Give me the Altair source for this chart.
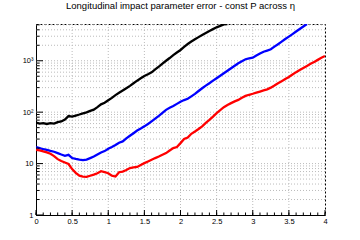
import altair as alt
import pandas as pd

# eta positions: 0.00, 0.05, 0.10, ...
ETA_STEP = 0.05

black = [63, 60, 61, 59, 61, 60, 64, 66, 72, 84,
         82, 86, 90, 95, 99, 106, 112, 125, 142, 152,
         170, 190, 215, 238, 263, 292, 325, 365, 410, 455,
         505, 545, 595, 680, 770, 880, 1000, 1130, 1290, 1450,
         1620, 1870, 2120, 2360, 2610, 2880, 3170, 3470, 3800, 4120,
         4470, 4780, 5100, 5150]

blue = [21, 20, 19, 18.5, 17.7, 17, 16, 15, 14.2, 14.8,
        12.8, 12.3, 11.9, 11.7, 12, 12.8, 13.7, 15, 16.4, 17.5,
        19.5, 21, 23, 25.5, 27, 31, 34.7, 39, 44, 48,
        53, 59, 66, 75, 85, 97, 111, 122, 132, 145,
        160, 172, 182, 203, 227, 258, 292, 328, 366, 410,
        457, 510, 571, 640, 715, 800, 893, 980, 1070, 1110,
        1150, 1260, 1380, 1500, 1580, 1670, 1880, 2100, 2350, 2650,
        2950, 3300, 3700, 4150, 4650, 5200]

red = [18.5, 18, 17.2, 16.5, 15.5, 14, 12.2, 11.2, 10.5, 9.8,
       7.8, 6.6, 5.8, 5.6, 5.5, 5.8, 6.1, 6.5, 7.1, 6.8,
       6.5, 5.8, 5.6, 6.8, 7.0, 7.5, 8.2, 8.4, 8.6, 9.4,
       10.2, 11, 11.9, 12.8, 13.7, 14.8, 16, 18, 20, 21,
       25, 30, 32, 38, 42, 47, 53, 62, 71, 82,
       96, 110, 125, 138, 150, 162, 173, 190, 207, 218,
       228, 240, 252, 265, 278, 300, 330, 365, 400, 440,
       485, 540, 600, 660, 725, 795, 870, 950, 1040, 1140,
       1240]

series_names = ["black", "blue", "red"]
series_colors = ["#000000", "#0000ff", "#ff0000"]

x_major = [0, 0.5, 1, 1.5, 2, 2.5, 3, 3.5, 4]
x_minor = [round(i * 0.1, 1) for i in range(41)]
y_major = [1, 10, 100, 1000]
y_minor = [m * 10 ** k for k in range(4) for m in range(2, 10) if m * 10 ** k < 5186]
y_grid = y_minor + [10, 100, 1000]
x_grid = [0.5, 1, 1.5, 2, 2.5, 3, 3.5]

rows = []
for name, vals in zip(series_names, [black, blue, red]):
    for i, v in enumerate(vals):
        rows.append({"eta": round(i * ETA_STEP, 2), "err": v, "series": name})
df = pd.DataFrame(rows)

W, H = 289, 191
FONT = "Liberation Sans"
xs = alt.Scale(domain=[0, 4], nice=False, zero=False)
ys = alt.Scale(type="log", domain=[1, 5186], nice=False)

x_axis = alt.Axis(
    values=x_major, format="~g", title=None, grid=False, ticks=False,
    domainColor="black", domainWidth=1, labelFont=FONT, labelFontSize=7.5,
    labelColor="black", labelPadding=2, labelFlush=False)
y_axis = alt.Axis(
    values=y_major, title=None, grid=False, ticks=False,
    labelExpr="datum.value == 1 ? '1' : datum.value == 10 ? '10' : datum.value == 100 ? '10²' : '10³'",
    domainColor="black", domainWidth=1, labelFont=FONT, labelFontSize=7.5,
    labelColor="black", labelPadding=3, labelFlush=False)

grid_col = "#bbbbbb"
xgrid = alt.Chart(pd.DataFrame({"x": x_grid})).mark_rule(
    color=grid_col, strokeDash=[1, 2], strokeWidth=1
).encode(x=alt.X("x:Q", scale=xs, axis=x_axis))
ygrid = alt.Chart(pd.DataFrame({"y": y_grid})).mark_rule(
    color=grid_col, strokeDash=[1, 2], strokeWidth=1
).encode(y=alt.Y("y:Q", scale=ys, axis=y_axis))

lines = alt.Chart(df).mark_line(strokeWidth=2.3, clip=True).encode(
    x=alt.X("eta:Q", scale=xs, axis=x_axis),
    y=alt.Y("err:Q", scale=ys, axis=y_axis),
    color=alt.Color("series:N", scale=alt.Scale(domain=series_names, range=series_colors), legend=None),
    order="eta:Q",
)

xt_major = alt.Chart(pd.DataFrame({"x": x_major})).mark_rule(color="black", strokeWidth=1).encode(
    x=alt.X("x:Q", scale=xs, axis=x_axis), y=alt.value(H), y2=alt.value(H - 5))
xt_minor = alt.Chart(pd.DataFrame({"x": x_minor})).mark_rule(color="black", strokeWidth=1).encode(
    x=alt.X("x:Q", scale=xs, axis=x_axis), y=alt.value(H), y2=alt.value(H - 2.5))
yt_major = alt.Chart(pd.DataFrame({"y": y_major})).mark_rule(color="black", strokeWidth=1).encode(
    y=alt.Y("y:Q", scale=ys, axis=y_axis), x=alt.value(0), x2=alt.value(7))
yt_minor = alt.Chart(pd.DataFrame({"y": y_minor})).mark_rule(color="black", strokeWidth=1).encode(
    y=alt.Y("y:Q", scale=ys, axis=y_axis), x=alt.value(0), x2=alt.value(3.5))

chart = alt.layer(xgrid, ygrid, lines, xt_major, xt_minor, yt_major, yt_minor).properties(
    width=W, height=H,
    autosize="none",
    padding={"left": 36, "top": 24, "right": 35, "bottom": 25},
    title=alt.TitleParams(
        "Longitudinal impact parameter error - const P across η",
        font=FONT, fontSize=9.5, fontWeight="normal", color="black",
        anchor="middle", offset=13),
).configure_view(stroke="black", strokeDash=[2, 2], strokeWidth=1)

chart.save("out.html", embed_options={"renderer": "svg", "actions": False})
